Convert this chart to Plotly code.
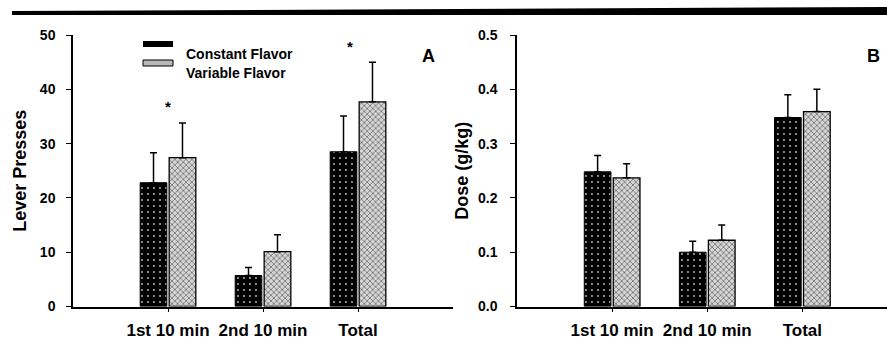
import plotly.graph_objects as go

W, H = 887, 360

categories = ["1st 10 min", "2nd 10 min", "Total"]

# Panel A: lever presses
lever_constant = [22.8, 5.7, 28.5]
lever_constant_err = [5.5, 1.5, 6.6]
lever_variable = [27.4, 10.1, 37.7]
lever_variable_err = [6.4, 3.1, 7.3]
lever_star_y = [36.8, None, 47.8]

# Panel B: dose (g/kg)
dose_constant = [0.248, 0.100, 0.348]
dose_constant_err = [0.030, 0.020, 0.042]
dose_variable = [0.237, 0.122, 0.359]
dose_variable_err = [0.026, 0.028, 0.041]

series_names = ["Constant Flavor", "Variable Flavor"]
lever_ticks = [0, 10, 20, 30, 40, 50]
dose_ticks = [0.0, 0.1, 0.2, 0.3, 0.4, 0.5]
dose_ticktext = ["0.0", "0.1", "0.2", "0.3", "0.4", "0.5"]


def px_x(p):
    return p / W


def px_y(p):
    return 1 - p / H


FONT = "Liberation Sans, Arial, sans-serif"

const_marker = dict(
    color="black",
    line=dict(color="black", width=1),
    pattern=dict(shape=".", fgcolor="#bbbbbb", bgcolor="black", size=6, solidity=0.08, fillmode="replace"),
)
var_marker = dict(
    color="#c4c4c4",
    line=dict(color="black", width=1.3),
    pattern=dict(shape="x", fgcolor="#3a3a3a", bgcolor="#d6d6d6", size=4, solidity=0.25, fillmode="replace"),
)


def err(arr):
    return dict(type="data", array=arr, arrayminus=[0] * len(arr), symmetric=False,
                color="black", thickness=1.5, width=3.5)


fig = go.Figure()

fig.add_trace(go.Bar(x=categories, y=lever_constant, name=series_names[0], marker=const_marker,
                     error_y=err(lever_constant_err), xaxis="x", yaxis="y", showlegend=False))
fig.add_trace(go.Bar(x=categories, y=lever_variable, name=series_names[1], marker=var_marker,
                     error_y=err(lever_variable_err), xaxis="x", yaxis="y", showlegend=False))
fig.add_trace(go.Bar(x=categories, y=dose_constant, name=series_names[0], marker=const_marker,
                     error_y=err(dose_constant_err), xaxis="x2", yaxis="y2", showlegend=False))
fig.add_trace(go.Bar(x=categories, y=dose_variable, name=series_names[1], marker=var_marker,
                     error_y=err(dose_variable_err), xaxis="x2", yaxis="y2", showlegend=False))

# significance stars
star_x = [c for c, s in zip(categories, lever_star_y) if s is not None]
star_y = [s for s in lever_star_y if s is not None]
star_shift = [0, -8]
annotations = []
for cx, sy, sh in zip(star_x, star_y, star_shift):
    annotations.append(dict(x=cx, y=sy, xref="x", yref="y", text="<b>*</b>", showarrow=False,
                            xshift=sh, font=dict(family=FONT, size=15, color="black")))

# panel letters
annotations.append(dict(x=px_x(428), y=px_y(44), xref="paper", yref="paper", text="<b>A</b>",
                        xanchor="center", showarrow=False, font=dict(family=FONT, size=18, color="black")))
annotations.append(dict(x=px_x(873), y=px_y(44), xref="paper", yref="paper", text="<b>B</b>",
                        xanchor="center", showarrow=False, font=dict(family=FONT, size=18, color="black")))

# legend (custom)
annotations.append(dict(x=px_x(184), y=px_y(44), xref="paper", yref="paper", xanchor="left",
                        text="<b>" + series_names[0] + "</b>", showarrow=False,
                        font=dict(family=FONT, size=14, color="black")))
annotations.append(dict(x=px_x(184), y=px_y(63), xref="paper", yref="paper", xanchor="left",
                        text="<b>" + series_names[1] + "</b>", showarrow=False,
                        font=dict(family=FONT, size=14, color="black")))

shapes = [
    # legend swatches
    dict(type="rect", xref="paper", yref="paper", x0=px_x(143), x1=px_x(173), y0=px_y(47), y1=px_y(41),
         fillcolor="black", line=dict(color="black", width=0)),
    dict(type="rect", xref="paper", yref="paper", x0=px_x(143), x1=px_x(173), y0=px_y(66), y1=px_y(60),
         fillcolor="#b8b8b8", line=dict(color="black", width=1)),
    # top black band
    dict(type="path", xref="paper", yref="paper",
         path=f"M {px_x(12)},{px_y(11)} L {px_x(887)},{px_y(7)} L {px_x(887)},{px_y(15)} L {px_x(12)},{px_y(15)} Z",
         fillcolor="black", line=dict(width=0)),
]

y_dom = [px_y(306.5), px_y(35)]

axis_common = dict(showgrid=False, zeroline=False, showline=True, linecolor="black", linewidth=1.5,
                   ticks="outside", tickcolor="black", tickwidth=1.2, automargin=False)

XT = dict(family=FONT, size=17, color="black")
YT = dict(family=FONT, size=14, color="black")
TT = dict(family=FONT, size=18, color="black")

fig.update_layout(
    width=W, height=H,
    margin=dict(l=0, r=0, t=0, b=0),
    paper_bgcolor="white", plot_bgcolor="white",
    barmode="group", bargap=0.39, bargroupgap=0.08,
    font=dict(family=FONT, color="black"),
    xaxis=dict(domain=[px_x(73), px_x(453)], range=[-1, 3], anchor="y", ticklen=4,
               tickfont=XT, ticklabelstandoff=3,
               tickvals=categories, ticktext=["<b>" + c + "</b>" for c in categories], **axis_common),
    yaxis=dict(domain=y_dom, range=[0, 50], anchor="x", tickvals=lever_ticks, ticklen=5,
               ticktext=["<b>%d</b>" % t for t in lever_ticks],
               tickfont=YT, ticklabelstandoff=8,
               title=dict(text="<b>Lever Presses</b>", font=TT, standoff=9),
               **axis_common),
    xaxis2=dict(domain=[px_x(517), 1.0], range=[-1, 2.89], anchor="y2", ticklen=4,
                tickfont=XT, ticklabelstandoff=3,
                tickvals=categories, ticktext=["<b>" + c + "</b>" for c in categories], **axis_common),
    yaxis2=dict(domain=y_dom, range=[0, 0.5], anchor="x2", tickvals=dose_ticks, ticklen=5,
                ticktext=["<b>" + t + "</b>" for t in dose_ticktext],
                tickfont=YT, ticklabelstandoff=10,
                title=dict(text="<b>Dose (g/kg)</b>", font=TT, standoff=5),
                **axis_common),
    annotations=annotations,
    shapes=shapes,
)

fig.write_html("out.html", config={"displayModeBar": False},
               post_script="document.body.style.margin='0';document.body.style.overflow='hidden';")
